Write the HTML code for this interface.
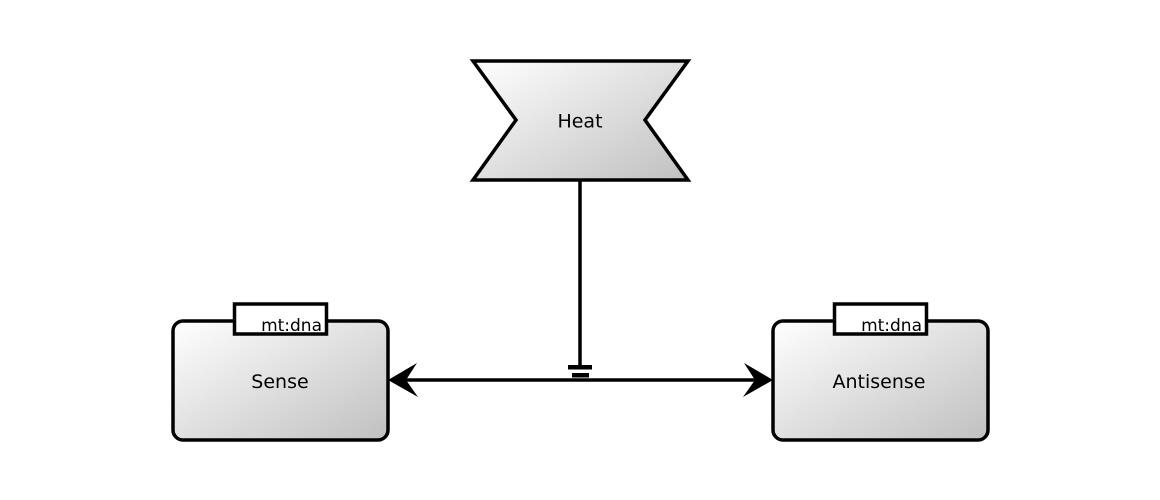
<!DOCTYPE html>
<html><head><meta charset="utf-8"><style>
html,body{margin:0;padding:0;background:#fff;}
svg{display:block;}
text{font-family:"DejaVu Sans","Liberation Sans",sans-serif;fill:#000;}
</style></head><body>
<svg width="1160" height="500" viewBox="0 0 1160 500" xmlns="http://www.w3.org/2000/svg">
<defs>
<linearGradient id="g" x1="0" y1="0" x2="1" y2="1">
<stop offset="0" stop-color="#ffffff"/>
<stop offset="1" stop-color="#c0c0c0"/>
</linearGradient>
</defs>
<!-- Heat -->
<polygon points="473,61 688,61 645,120 688,180 473,180 516,120" fill="url(#g)" stroke="#000" stroke-width="3.5" stroke-linejoin="miter"/>
<text x="580" y="127.5" font-size="19" text-anchor="middle">Heat</text>
<!-- vertical connector -->
<line x1="580" y1="180" x2="580" y2="366" stroke="#000" stroke-width="3.5"/>
<rect x="568" y="365" width="24" height="4.5" fill="#000"/>
<rect x="572" y="373" width="17" height="4.5" fill="#000"/>
<!-- horizontal -->
<line x1="405" y1="380" x2="757" y2="380" stroke="#000" stroke-width="3.5"/>
<polygon points="388,380 417,363 406,380 418,397" fill="#000"/>
<polygon points="773,380 744,363 755,380 743,397" fill="#000"/>
<!-- Sense -->
<rect x="173" y="321" width="215" height="119" rx="10" ry="10" fill="url(#g)" stroke="#000" stroke-width="3.5"/>
<rect x="234.5" y="304" width="92" height="30" fill="#fff" stroke="#000" stroke-width="3.5"/>
<text x="322" y="331" font-size="17" text-anchor="end">mt:dna</text>
<text x="280" y="388" font-size="19" text-anchor="middle">Sense</text>
<!-- Antisense -->
<rect x="773" y="321" width="215" height="119" rx="10" ry="10" fill="url(#g)" stroke="#000" stroke-width="3.5"/>
<rect x="834.5" y="304" width="92" height="30" fill="#fff" stroke="#000" stroke-width="3.5"/>
<text x="922" y="331" font-size="17" text-anchor="end">mt:dna</text>
<text x="879" y="388" font-size="19" text-anchor="middle">Antisense</text>
</svg>
</body></html>
